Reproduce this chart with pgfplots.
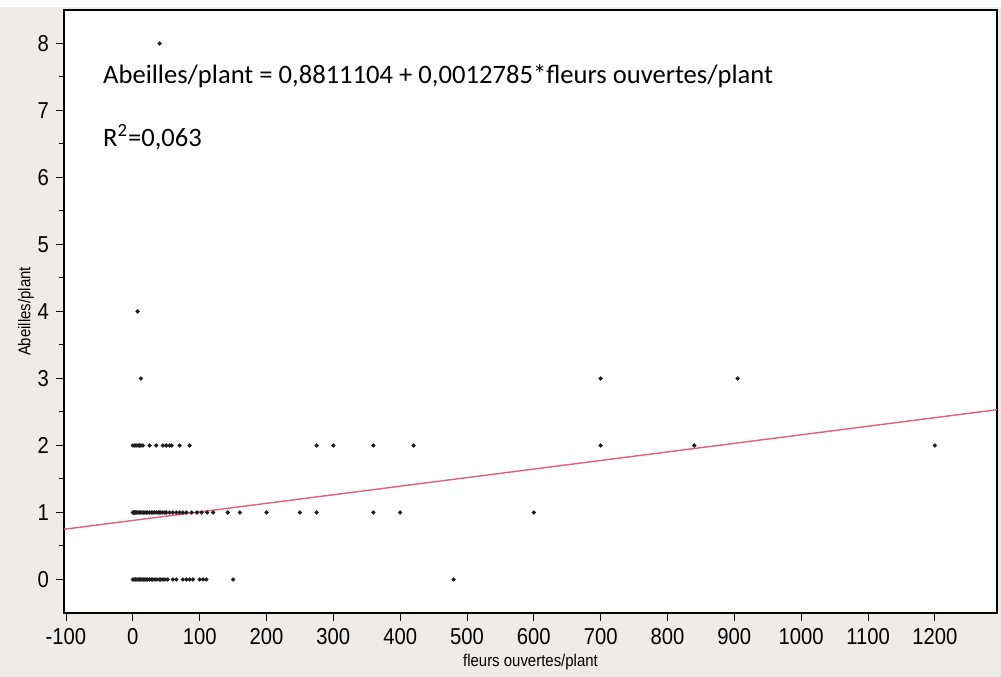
\documentclass[border=0pt]{standalone}
\usepackage{fontspec}
\setmainfont{Liberation Sans}
\newfontfamily\eqfont{Carlito}
\newfontfamily\narrowfont[FakeStretch=0.88]{Liberation Sans}
\usepackage{pgfplots}
\pgfplotsset{compat=1.18}
\usetikzlibrary{backgrounds}

\definecolor{bggray}{RGB}{238,236,233}
\definecolor{fitred}{RGB}{226,96,118}
\definecolor{dotgray}{RGB}{30,30,30}

\begin{document}
\begin{tikzpicture}
\begin{axis}[
    name=main,
    scale only axis,
    width=466.5pt,
    height=301.5pt,
    xmin=-103, xmax=1293,
    ymin=-0.5, ymax=8.5,
    axis background/.style={fill=white},
    axis line style={black, line width=0.6pt},
    xtick={-100,0,...,1200},
    xticklabels={-100,0,100,200,300,400,500,600,700,800,900,1000,1100,1200},
    ytick={0,1,...,8},
    minor ytick={0.5,1.5,...,7.5},
    tick align=outside,
    tick pos=left,
    major tick length=4pt,
    minor tick length=2.5pt,
    tick style={black, line width=0.5pt},
    ticklabel style={font=\narrowfont\fontsize{11.5}{11.5}\selectfont},
    /pgf/number format/assume math mode=true,
    xlabel={fleurs ouvertes/plant},
    ylabel={Abeilles/plant},
    label style={font=\narrowfont\fontsize{8.5}{9}\selectfont},
    xlabel style={yshift=2pt},
    ylabel style={yshift=-5pt},
    clip=true,
]
% points (y = 0)
\addplot[only marks, mark=*, mark size=0.85pt, dotgray] coordinates {
    (0,0) (2,0) (4,0) (6,0) (8,0) (10,0) (12,0) (14,0) (16,0) (18,0)
    (20,0) (22,0) (25,0) (28,0) (30,0) (33,0) (36,0) (40,0) (42,0) (45,0)
    (48,0) (52,0) (60,0) (65,0) (75,0) (80,0) (85,0) (90,0) (100,0)
    (105,0) (110,0) (150,0) (480,0)
};
% points (y = 1)
\addplot[only marks, mark=*, mark size=0.85pt, dotgray] coordinates {
    (0,1) (1,1) (2,1) (3,1) (4,1) (5,1) (6,1) (8,1) (10,1) (12,1)
    (14,1) (16,1) (18,1) (20,1) (22,1) (25,1) (28,1) (30,1) (32,1) (35,1)
    (38,1) (40,1) (42,1) (45,1) (48,1) (50,1) (55,1) (60,1) (65,1) (70,1)
    (75,1) (80,1) (88,1) (96,1) (103,1) (111,1) (120,1) (142,1) (160,1)
    (200,1) (250,1) (275,1) (360,1) (400,1) (600,1)
};
% points (y >= 2)
\addplot[only marks, mark=*, mark size=0.85pt, dotgray] coordinates {
    (0,2) (3,2) (5,2) (8,2) (10,2) (12,2) (15,2) (25,2) (35,2) (45,2)
    (50,2) (55,2) (58,2) (70,2) (85,2) (275,2) (300,2) (360,2) (420,2)
    (700,2) (840,2) (1200,2)
    (12,3) (700,3) (905,3)
    (7,4)
    (40,8)
};
% regression line
\addplot[fitred, line width=0.7pt] coordinates {(-103,0.7494249) (1293,2.5341609)};

\node[anchor=base west, inner sep=0pt, font=\eqfont\fontsize{13.3}{13.3}\selectfont] at (axis cs:-45,7.40)
    {Abeilles/plant = 0,8811104 + 0,0012785*fleurs ouvertes/plant};
\node[anchor=base west, inner sep=0pt, font=\eqfont\fontsize{13.3}{13.3}\selectfont] at (axis cs:-45,6.46)
    {R\textsuperscript{2}=0,063};
\end{axis}
\begin{pgfonlayer}{background}
\fill[bggray] ([shift={(-32pt,-32pt)}]main.south west) rectangle ([shift={(2pt,1.5pt)}]main.north east);
\end{pgfonlayer}
\path[use as bounding box] ([shift={(-32pt,-32pt)}]main.south west) rectangle ([shift={(2pt,5pt)}]main.north east);
\end{tikzpicture}
\end{document}
